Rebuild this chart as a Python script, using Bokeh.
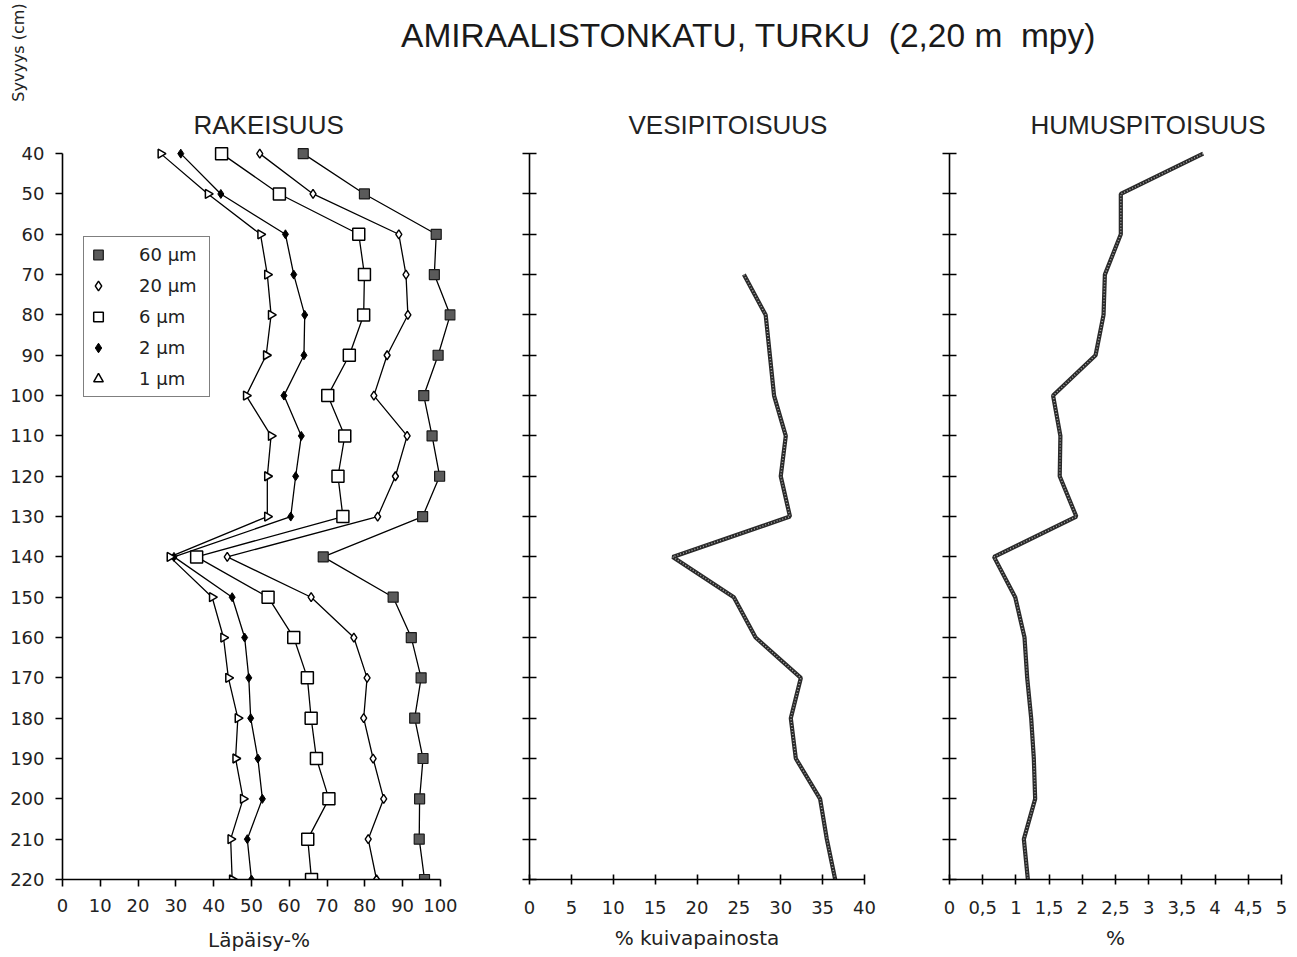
import math
from bokeh.plotting import figure
from bokeh.models import Range1d, FixedTicker, Label, Legend, LegendItem, Title
from bokeh.layouts import column, row
from bokeh.embed import file_html
from bokeh.resources import INLINE

# ---------------- data ----------------
depths = [40, 50, 60, 70, 80, 90, 100, 110, 120, 130, 140, 150, 160, 170, 180, 190, 200, 210, 220]
pass_60um = [63.7, 79.9, 98.9, 98.4, 102.6, 99.4, 95.6, 97.8, 99.8, 95.3, 69.0, 87.5, 92.3, 94.9, 93.2, 95.4, 94.5, 94.4, 95.8]
pass_20um = [52.2, 66.3, 89.0, 90.9, 91.4, 85.9, 82.4, 91.2, 88.1, 83.4, 43.6, 65.8, 77.1, 80.6, 79.7, 82.2, 85.0, 80.9, 83.1]
pass_6um = [42.1, 57.4, 78.4, 79.9, 79.7, 75.9, 70.2, 74.7, 72.9, 74.2, 35.5, 54.4, 61.2, 64.8, 65.8, 67.2, 70.5, 64.9, 65.9]
pass_2um = [31.3, 41.9, 59.0, 61.2, 64.1, 63.9, 58.6, 63.2, 61.7, 60.4, 29.5, 44.9, 48.2, 49.3, 49.8, 51.7, 52.9, 48.9, 50.0]
pass_1um = [26.0, 38.5, 52.4, 54.2, 55.2, 53.9, 48.6, 55.2, 54.2, 54.2, 28.4, 39.6, 42.6, 43.9, 46.4, 45.8, 47.8, 44.5, 44.9]

water_depths = [70, 80, 90, 100, 110, 120, 130, 140, 150, 160, 170, 180, 190, 200, 210, 220]
water_pct = [25.6, 28.2, 28.7, 29.2, 30.6, 30.0, 31.1, 17.1, 24.4, 27.0, 32.4, 31.2, 31.8, 34.7, 35.5, 36.5]

humus_depths = depths
humus_pct = [3.82, 2.58, 2.58, 2.34, 2.32, 2.20, 1.56, 1.67, 1.66, 1.91, 0.67, 0.99, 1.13, 1.17, 1.23, 1.27, 1.29, 1.12, 1.18]

depth_ticks = list(range(40, 221, 10))
grain_ticks = list(range(0, 101, 10))
water_ticks = list(range(0, 41, 5))
humus_ticks = [0, 0.5, 1, 1.5, 2, 2.5, 3, 3.5, 4, 4.5, 5]
humus_tick_labels = ["0", "0,5", "1", "1,5", "2", "2,5", "3", "3,5", "4", "4,5", "5"]

NB = "\u00a0"
title_text = "AMIRAALISTONKATU, TURKU " + NB + "(2,20 m " + NB + "mpy)"
ylabel_text = "Syvyys (cm)"
panel_titles = ["RAKEISUUS", "VESIPITOISUUS", "HUMUSPITOISUUS"]
xlabels = ["Läpäisy-%", "% kuivapainosta", "%"]

LAB_FONT = "DejaVu Sans"
TITLE_FONT = "Liberation Sans"
TXT = "#222222"

yr = Range1d(220, 36)
FRAME_H = 742


def make_panel(xend, frame_w, bl, br, xticks, show_ylabels, x_in, x_out, lab_standoff,
               ptitle, toffset, xlabel, axl_standoff):
    p = figure(frame_width=frame_w, frame_height=FRAME_H,
               x_range=Range1d(0, xend), y_range=yr,
               output_backend="svg", toolbar_location=None, title=None,
               min_border_left=bl, min_border_right=br,
               min_border_top=33, min_border_bottom=76)
    p.grid.visible = False
    p.outline_line_color = None
    p.background_fill_color = "white"
    p.border_fill_color = "white"
    p.add_layout(Title(text=ptitle, align="left", offset=toffset, standoff=-5,
                       text_font=TITLE_FONT, text_font_size="26px", text_font_style="normal",
                       text_color=TXT), "above")
    xa = p.xaxis[0]
    xa.ticker = FixedTicker(ticks=xticks)
    xa.bounds = (xticks[0], xticks[-1])
    xa.axis_line_width = 1.6
    xa.major_tick_line_width = 1.6
    xa.major_tick_in = x_in
    xa.major_tick_out = x_out
    xa.minor_tick_line_color = None
    xa.major_label_text_font = LAB_FONT
    xa.major_label_text_font_size = "18px"
    xa.major_label_text_color = TXT
    xa.major_label_standoff = lab_standoff
    xa.axis_label = xlabel
    xa.axis_label_text_font = LAB_FONT
    xa.axis_label_text_font_size = "20px"
    xa.axis_label_text_font_style = "normal"
    xa.axis_label_text_color = TXT
    xa.axis_label_standoff = axl_standoff
    ya = p.yaxis[0]
    ya.ticker = FixedTicker(ticks=depth_ticks)
    ya.bounds = (40, 220)
    ya.axis_line_width = 1.6
    ya.major_tick_line_width = 1.6
    ya.minor_tick_line_color = None
    ya.major_label_text_font = LAB_FONT
    ya.major_label_text_font_size = "18px"
    ya.major_label_text_color = TXT
    if show_ylabels:
        ya.major_tick_in = 0
        ya.major_tick_out = 7
        ya.major_label_standoff = 11
    else:
        ya.major_tick_in = 7
        ya.major_tick_out = 7
        ya.major_label_overrides = {t: "" for t in depth_ticks}
    return p


# ---------------- panel 1: grain size ----------------
p1 = make_panel(104, 393, 62, 25, grain_ticks, True, 0, 7, 12,
                panel_titles[0], 131, xlabels[0], 13)
for vals in [pass_60um, pass_20um, pass_6um, pass_2um, pass_1um]:
    p1.line(vals, depths, line_color="black", line_width=1.3)

s60 = p1.scatter(pass_60um, depths, marker="square", size=10, fill_color="#5a5a5a",
                 line_color="#1a1a1a", line_width=1.2)
s20 = p1.scatter(pass_20um, depths, marker="diamond", size=9, fill_color="white",
                 line_color="black", line_width=1.4)
s6 = p1.scatter(pass_6um, depths, marker="square", size=12, fill_color="white",
                line_color="black", line_width=1.5)
s2 = p1.scatter(pass_2um, depths, marker="diamond", size=9, fill_color="black",
                line_color="black", line_width=1)
s1 = p1.scatter(pass_1um, depths, marker="triangle", angle=-math.pi / 2, size=9,
                fill_color="white", line_color="black", line_width=1.5)

legend = Legend(items=[LegendItem(label="60 µm", renderers=[s60]),
                       LegendItem(label="20 µm", renderers=[s20]),
                       LegendItem(label="6 µm", renderers=[s6]),
                       LegendItem(label="2 µm", renderers=[s2]),
                       LegendItem(label="1 µm", renderers=[s1])],
                location=(21, 482))
legend.border_line_color = "black"
legend.border_line_width = 1.5
legend.background_fill_color = "white"
legend.background_fill_alpha = 1
legend.label_text_font = LAB_FONT
legend.label_text_font_size = "18px"
legend.label_text_color = TXT
legend.glyph_width = 24
legend.glyph_height = 31
legend.label_height = 31
legend.label_width = 68
legend.label_standoff = 29
legend.spacing = 0
legend.padding = 2
legend.margin = 0
p1.add_layout(legend, "center")

# ---------------- panel 2: water content ----------------
p2 = make_panel(40, 335, 49, 36, water_ticks, False, 5, 5, 16,
                panel_titles[1], 99, xlabels[1], 9)
p2.line(water_pct, water_depths, line_color="#2a2a2a", line_width=4.2)
p2.line(water_pct, water_depths, line_color="#a8a8a8", line_width=1.5, line_dash="1 2")

# ---------------- panel 3: humus content ----------------
p3 = make_panel(5, 332, 49, 16, humus_ticks, False, 5, 5, 16,
                panel_titles[2], 81, xlabels[2], 9)
p3.xaxis[0].major_label_overrides = {t: lab for t, lab in zip(humus_ticks, humus_tick_labels)}
p3.line(humus_pct, humus_depths, line_color="#2a2a2a", line_width=4.2)
p3.line(humus_pct, humus_depths, line_color="#a8a8a8", line_width=1.5, line_dash="1 2")

# ---------------- header ----------------
top = figure(frame_width=1297, frame_height=104, x_range=Range1d(0, 1297), y_range=Range1d(104, 0),
             x_axis_type=None, y_axis_type=None, output_backend="svg", toolbar_location=None,
             title=None, min_border=0)
top.grid.visible = False
top.outline_line_color = None
top.add_layout(Label(x=748, y=35, text=title_text, text_font=TITLE_FONT, text_font_size="33.5px",
                     text_align="center", text_baseline="alphabetic", text_color="#1a1a1a"))
top.add_layout(Label(x=18, y=52, text=ylabel_text, text_font=LAB_FONT, text_font_size="16px",
                     text_align="center", text_baseline="middle", angle=math.pi / 2,
                     text_color=TXT))

layout = column(top, row(p1, p2, p3, spacing=0), spacing=0)

with open("out.html", "w") as f:
    f.write(file_html(layout, INLINE))
